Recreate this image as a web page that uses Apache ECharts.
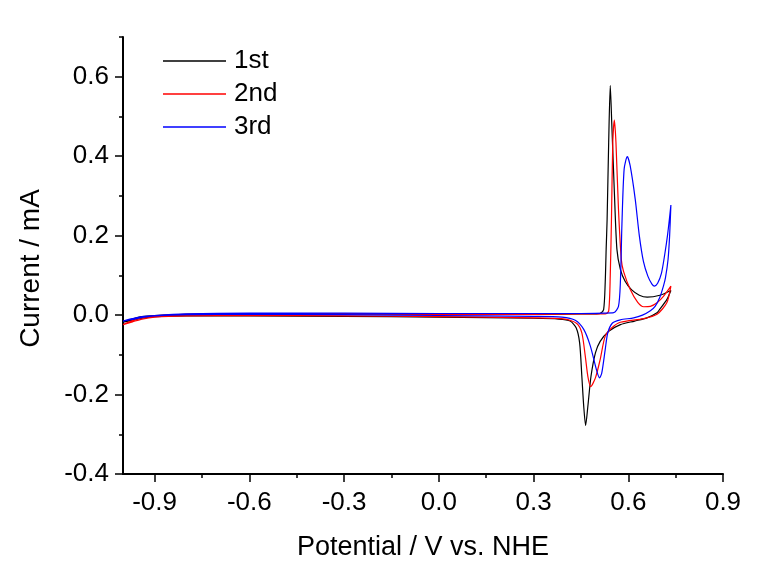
<!DOCTYPE html>
<html>
<head>
<meta charset="utf-8">
<script src="https://cdn.jsdelivr.net/npm/echarts@6/dist/echarts.min.js"></script>
<style>
html,body{margin:0;padding:0;background:#fff;}
#chart{width:765px;height:573px;}
</style>
</head>
<body>
<div id="chart"></div>
<script>
// ---- data ----
const seriesNames = ['1st', '2nd', '3rd'];

const cycle1V = [-1.00, -0.97, -0.94, -0.90, -0.80, -0.60, -0.30, 0.00, 0.30, 0.45, 0.50, 0.511, 0.522, 0.527, 0.530, 0.533, 0.538, 0.543, 0.548, 0.556, 0.564, 0.575, 0.590, 0.610, 0.635, 0.660, 0.700, 0.735,
                 0.722, 0.700, 0.691, 0.659, 0.620, 0.575, 0.538, 0.511, 0.496, 0.482, 0.472, 0.465, 0.459, 0.453, 0.446, 0.435, 0.416, 0.380, 0.300, 0.00, -0.30, -0.60, -0.80, -0.90, -0.94, -0.97, -1.00];
const cycle1I = [-0.018, -0.010, -0.004, -0.001, 0.002, 0.004, 0.003, 0.002, 0.002, 0.003, 0.003, 0.004, 0.014, 0.082, 0.166, 0.240, 0.435, 0.578, 0.477, 0.309, 0.166, 0.115, 0.085, 0.064, 0.050, 0.045, 0.050, 0.062,
                 0.039, 0.015, 0.006, -0.007, -0.015, -0.024, -0.041, -0.066, -0.095, -0.154, -0.230, -0.278, -0.230, -0.154, -0.070, -0.032, -0.015, -0.010, -0.008, -0.005, -0.003, -0.002, -0.002, -0.004, -0.008, -0.013, -0.018];

const cycle2V = [-1.00, -0.97, -0.94, -0.90, -0.80, -0.60, -0.30, 0.00, 0.30, 0.45, 0.50, 0.527, 0.538, 0.543, 0.547, 0.551, 0.556, 0.561, 0.569, 0.578, 0.585, 0.606, 0.630, 0.649, 0.670, 0.691, 0.712, 0.735,
                 0.722, 0.691, 0.649, 0.575, 0.548, 0.527, 0.511, 0.496, 0.481, 0.472, 0.464, 0.453, 0.437, 0.400, 0.300, 0.00, -0.30, -0.60, -0.80, -0.90, -0.94, -0.97, -1.00];
const cycle2I = [-0.024, -0.014, -0.006, -0.002, 0.002, 0.004, 0.003, 0.002, 0.002, 0.003, 0.003, 0.003, 0.010, 0.100, 0.250, 0.435, 0.491, 0.435, 0.267, 0.140, 0.110, 0.065, 0.032, 0.021, 0.022, 0.031, 0.048, 0.073,
                 0.031, 0.002, -0.009, -0.018, -0.032, -0.053, -0.112, -0.158, -0.180, -0.154, -0.104, -0.045, -0.021, -0.010, -0.007, -0.004, -0.002, -0.001, -0.002, -0.005, -0.010, -0.017, -0.024];

const cycle3V = [-1.00, -0.97, -0.94, -0.90, -0.80, -0.60, -0.30, 0.00, 0.30, 0.45, 0.52, 0.554, 0.569, 0.575, 0.580, 0.587, 0.597, 0.606, 0.622, 0.635, 0.648, 0.662, 0.675, 0.683, 0.693, 0.705, 0.715, 0.725, 0.735,
                 0.731, 0.726, 0.718, 0.712, 0.700, 0.685, 0.670, 0.645, 0.617, 0.575, 0.550, 0.535, 0.527, 0.516, 0.509, 0.499, 0.480, 0.459, 0.432, 0.390, 0.300, 0.00, -0.30, -0.60, -0.80, -0.90, -0.94, -0.97, -1.00];
const cycle3I = [-0.015, -0.009, -0.004, -0.001, 0.003, 0.005, 0.005, 0.004, 0.004, 0.004, 0.005, 0.006, 0.022, 0.082, 0.230, 0.368, 0.399, 0.376, 0.292, 0.200, 0.135, 0.098, 0.078, 0.073, 0.080, 0.105, 0.150, 0.205, 0.277,
                 0.200, 0.140, 0.095, 0.075, 0.045, 0.022, 0.011, 0.000, -0.007, -0.012, -0.020, -0.045, -0.087, -0.146, -0.158, -0.137, -0.078, -0.036, -0.013, -0.005, -0.003, -0.001, 0.001, 0.002, 0.001, -0.002, -0.006, -0.011, -0.015];

const xMajorTicks = [-0.9, -0.6, -0.3, 0.0, 0.3, 0.6, 0.9];
const xMinorTicks = [-0.75, -0.45, -0.15, 0.15, 0.45, 0.75];
const yMajorTicks = [-0.4, -0.2, 0.0, 0.2, 0.4, 0.6];
const yMinorTicks = [-0.3, -0.1, 0.1, 0.3, 0.5, 0.7];

const seriesColors = ['#000000', '#ff0000', '#0000ff'];

// ---- chart ----
const FONT = '"Liberation Sans", Arial, sans-serif';
function pairs(v, i) { return v.map((x, k) => [x, i[k]]); }
const cycles = [pairs(cycle1V, cycle1I), pairs(cycle2V, cycle2I), pairs(cycle3V, cycle3I)];

const chart = echarts.init(document.getElementById('chart'), null, {renderer: 'canvas'});
const xRange = {min: -1.0, max: 0.9};
const yRange = {min: -0.4, max: 0.7};

chart.setOption({
  animation: false,
  backgroundColor: '#fff',
  grid: {left: 123, right: 42, top: 37, bottom: 99, containLabel: false},
  legend: {
    data: seriesNames,
    orient: 'vertical',
    left: 163, top: 48,
    itemWidth: 63, itemHeight: 1.5, itemGap: 7,
    icon: 'rect', padding: 0,
    textStyle: {fontSize: 26, color: '#000', fontFamily: FONT, padding: [0, 0, 0, 3]}
  },
  xAxis: [{
    type: 'value', ...xRange, position: 'bottom',
    name: 'Potential / V vs. NHE', nameLocation: 'middle', nameGap: 60,
    nameTextStyle: {fontSize: 27, color: '#000', fontFamily: FONT},
    axisLine: {show: true, onZero: false, lineStyle: {color: '#000', width: 2}},
    axisTick: {show: true, inside: false, length: 8, customValues: xMajorTicks, lineStyle: {color: '#000', width: 1.5}},
    axisLabel: {customValues: xMajorTicks, formatter: v => v.toFixed(1), fontSize: 26, color: '#000', margin: 16, fontFamily: FONT},
    splitLine: {show: false}
  }, {
    type: 'value', ...xRange, position: 'bottom',
    axisLine: {show: false, onZero: false},
    axisTick: {show: true, inside: false, length: 4, customValues: xMinorTicks, lineStyle: {color: '#000', width: 1.5}},
    axisLabel: {show: false},
    splitLine: {show: false}
  }],
  yAxis: [{
    type: 'value', ...yRange, position: 'left',
    name: 'Current / mA', nameLocation: 'middle', nameGap: 78, nameRotate: 90,
    nameTextStyle: {fontSize: 28, color: '#000', fontFamily: FONT, padding: [0, 26, 0, 0]},
    axisLine: {show: true, onZero: false, lineStyle: {color: '#000', width: 2}},
    axisTick: {show: true, inside: false, length: 8, customValues: yMajorTicks, lineStyle: {color: '#000', width: 1.5}},
    axisLabel: {customValues: yMajorTicks, formatter: v => v.toFixed(1), fontSize: 26, color: '#000', margin: 14, fontFamily: FONT},
    splitLine: {show: false}
  }, {
    type: 'value', ...yRange, position: 'left',
    axisLine: {show: false, onZero: false},
    axisTick: {show: true, inside: false, length: 4, customValues: yMinorTicks, lineStyle: {color: '#000', width: 1.5}},
    axisLabel: {show: false},
    splitLine: {show: false}
  }],
  series: seriesNames.map((n, k) => ({
    name: n, type: 'line', data: cycles[k],
    xAxisIndex: 0, yAxisIndex: 0,
    showSymbol: false, symbol: 'none',
    smooth: 0.25, smoothMonotone: 'none',
    color: seriesColors[k],
    lineStyle: {color: seriesColors[k], width: 1.2},
    clip: false, z: 2 + k
  }))
});
</script>
</body>
</html>
